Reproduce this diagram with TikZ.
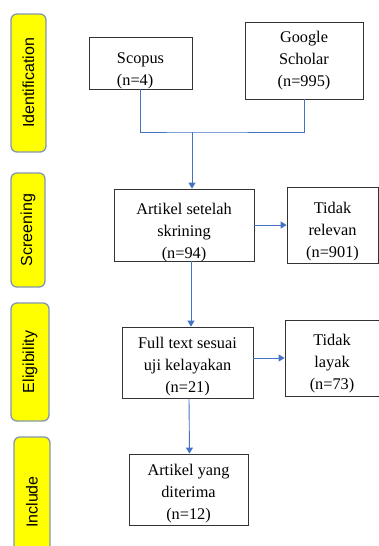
\documentclass[tikz,border=0pt]{standalone}
\usepackage{fontspec}
\usepackage{graphicx}
\setmainfont{Liberation Serif}
\newfontfamily\phasefont{Liberation Sans}
\usetikzlibrary{arrows.meta}
\definecolor{linkblue}{RGB}{68,114,196}
\definecolor{phaseedge}{RGB}{132,151,176}
\definecolor{phasefill}{RGB}{255,255,0}
% box text, set a little below the middle of its frame
\newcommand{\boxlines}[3][c]{\raisebox{-#2}[\height][\depth]{\begin{tabular}{@{}#1@{}}#3\end{tabular}}}
\begin{document}
\begin{tikzpicture}[x=1pt,y=-1pt,
  box/.style={draw=black!80,line width=0.8pt,inner sep=1pt,
    font=\fontsize{16.3}{22}\selectfont},
  phase/.style={draw=phaseedge,fill=phasefill,line width=1.3pt,rounded corners=6pt,
    rotate=90,inner sep=0pt,font=\phasefont\fontsize{16}{18}\selectfont},
  link/.style={draw=linkblue,line width=0.9pt},
  tip/.style={link,-{Triangle[width=7pt,length=6pt]}}]
\useasboundingbox (0,0) rectangle (379,546);
% phase labels on the left
\node[phase,minimum width=138pt,minimum height=35pt] (ident) at (28.5,83) {Identification};
\node[phase,minimum width=114pt,minimum height=34pt] (screen) at (28,230) {Screening};
\node[phase,minimum width=118pt,minimum height=38pt] (elig) at (30,362) {Eligibility};
\begin{scope}
\clip (0,0) rectangle (379,546);
\node[phase,minimum width=130pt,minimum height=36pt] (incl) at (32,502) {Include};
\end{scope}
% boxes
\node[box,minimum width=103pt,minimum height=52pt] (scopus) at (140.5,63) {\boxlines[l]{7pt}{Scopus\\(n=4)}};
\node[box,minimum width=118pt,minimum height=77pt] (google) at (304,60.5) {\boxlines{0pt}{Google\\Scholar\\(n=995)}};
\node[box,minimum width=140pt,minimum height=72pt] (skrining) at (184,225) {\boxlines{7pt}{Artikel setelah\\skrining\\(n=94)}};
\node[box,minimum width=91pt,minimum height=76pt] (relevan) at (332.5,225) {\boxlines{6pt}{Tidak\\relevan\\(n=901)}};
\node[box,minimum width=131pt,minimum height=71pt] (fulltext) at (187.5,362.5) {\boxlines{4pt}{Full text sesuai\\uji kelayakan\\(n=21)}};
\node[box,minimum width=94pt,minimum height=76pt] (layak) at (332,358) {\boxlines{5pt}{Tidak\\layak\\(n=73)}};
\node[box,minimum width=119pt,minimum height=71pt] (diterima) at (188.5,489.5) {\boxlines{4pt}{Artikel yang\\diterima\\(n=12)}};
% connectors
\coordinate (join) at (192,132);
\draw[link] (scopus.south) |- (join) -| (google.south);
\draw[tip] (join) -- (join |- skrining.north);
\draw[tip] (skrining.east) -- (skrining.east -| relevan.west);
\draw[tip] ([xshift=7pt]skrining.south) -- ([xshift=3.5pt]fulltext.north);
\draw[tip] (layak.west -| fulltext.east) -- (layak.west);
\draw[tip] ([xshift=1.5pt]fulltext.south) -- ([xshift=1pt]diterima.north);
\end{tikzpicture}
\end{document}
